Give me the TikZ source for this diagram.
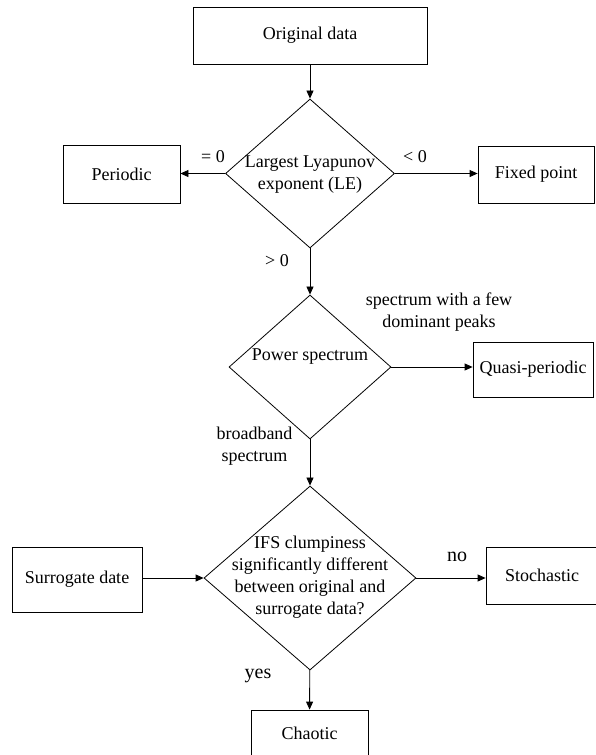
\documentclass[tikz,border=0pt]{standalone}
\usepackage{fontspec}
\setmainfont{Liberation Serif}
\usetikzlibrary{shapes.geometric,arrows.meta}
\begin{document}
\begin{tikzpicture}[x=1pt,y=-1pt,
  every node/.style={font=\fontsize{18}{22}\selectfont},
  box/.style={draw,line width=0.8pt,inner sep=0pt,align=center},
  dia/.style={draw,shape=diamond,line width=0.8pt,inner sep=0pt},
  txt/.style={align=center,inner sep=0pt},
  lbl/.style={align=center,inner sep=0pt},
  arr/.style={line width=0.8pt,-{Triangle[length=8pt,width=7pt]}}]
\useasboundingbox (0,0) rectangle (595,755);
% boxes
\node[box,minimum width=234pt,minimum height=57pt] (orig) at (310,35.5) {Original data};
\node[box,minimum width=117pt,minimum height=58pt] (per) at (121.5,174) {Periodic};
\node[box,minimum width=116pt,minimum height=57pt] (fix) at (536,174.5) {Fixed point};
\node[box,minimum width=120pt,minimum height=55pt] (qp) at (533,369.5) {Quasi-periodic};
\node[box,minimum width=130pt,minimum height=65pt] (sur) at (77,579.5) {Surrogate date};
\node[box,minimum width=112pt,minimum height=57pt] (sto) at (542,575.5) {Stochastic};
\node[box,minimum width=117pt,minimum height=46pt] (cha) at (309.5,733) {Chaotic};
% diamonds
\node[dia,minimum width=169pt,minimum height=149pt] (le) at (310,173.5) {};
\node[txt] (letxt) at (310,175) {Largest Lyapunov\\exponent (LE)};
\node[dia,minimum width=162pt,minimum height=144pt] (ps) at (310,367) {};
\node[txt] (pstxt) at (310,357) {Power spectrum};
\node[dia,minimum width=212pt,minimum height=184pt] (ifs) at (310,578) {};
\node[txt] (ifstxt) at (310,577) {IFS clumpiness\\significantly different\\between original and\\surrogate data?};
% connectors
\draw[arr] (orig) -- (le);
\draw[arr] (le.west) -- (le.west -| per.east);
\draw[arr] (le.east) -- (le.east -| fix.west);
\draw[arr] (le) -- (ps);
\draw[arr] (ps.east) -- (ps.east -| qp.west);
\draw[arr] (ps) -- (ifs);
\draw[arr] (ifs.west -| sur.east) -- (ifs.west);
\draw[arr] (ifs.east) -- (ifs.east -| sto.west);
\draw[arr] (ifs) -- (cha);
% labels
\node[lbl] (l1) at (213,157) {= 0};
\node[lbl] (l2) at (415,157) {< 0};
\node[lbl] (l3) at (277,261) {> 0};
\node[lbl] (l4) at (439,312) {spectrum with a few\\dominant peaks};
\node[lbl] (l5) at (254.5,446) {broadband\\spectrum};
\node[lbl,font=\fontsize{20}{24}\selectfont] (l6) at (457,557) {no};
\node[lbl,font=\fontsize{20}{24}\selectfont] (l7) at (258,676) {yes};
\end{tikzpicture}
\end{document}
